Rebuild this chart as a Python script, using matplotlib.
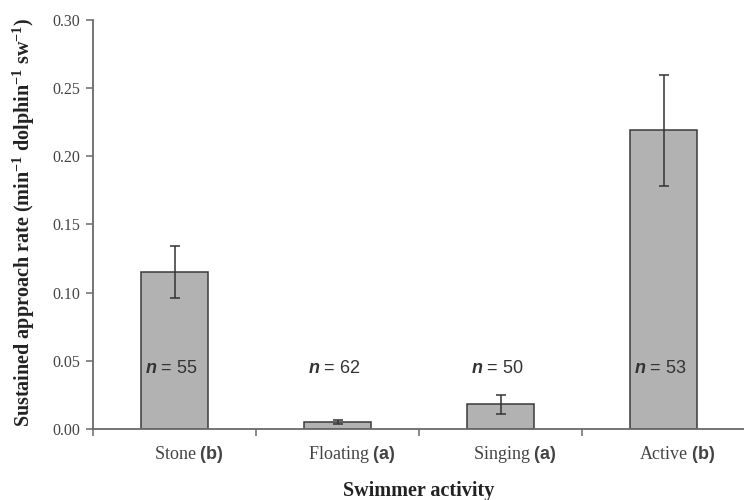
import numpy as np
import matplotlib
matplotlib.use("Agg")
import matplotlib.pyplot as plt
import matplotlib.transforms as mtransforms

# Fonts: serif for axes text, sans bold for group letters
plt.rcParams['font.family'] = ['Liberation Serif', 'DejaVu Serif']
plt.rcParams['mathtext.fontset'] = 'custom'
plt.rcParams['mathtext.bf'] = 'Liberation Serif:bold'
plt.rcParams['mathtext.sf'] = 'Liberation Sans:bold'
plt.rcParams['mathtext.it'] = 'Liberation Sans:italic:bold'
plt.rcParams['mathtext.rm'] = 'Liberation Sans'

# Data
categories = ['Stone', 'Floating', 'Singing', 'Active']
letters = ['b', 'a', 'a', 'b']
rates = [0.115, 0.005, 0.018, 0.219]
errors = [0.019, 0.0015, 0.007, 0.041]
n_counts = [55, 62, 50, 53]
y_ticks = [0.00, 0.05, 0.10, 0.15, 0.20, 0.25, 0.30]

TEXT = '#444444'
AXIS = '#6a6a6a'

fig = plt.figure(figsize=(7.44, 5.0), dpi=100)
ax = fig.add_axes([93 / 744, 71 / 500, 652 / 744, 409 / 500])

x = np.arange(len(categories))
ax.bar(x, rates, width=0.41, color='#b2b2b2', edgecolor='#3a3a3a', linewidth=1.1, zorder=2)
ax.errorbar(x, rates, yerr=errors, fmt='none', ecolor='#333333', elinewidth=1.1,
            capsize=3.6, capthick=1.1, zorder=3)

# n labels inside / above bars
for xi, n in zip(x, n_counts):
    ax.text(xi - 0.02, 0.0445, r'$\mathit{n}$ = %d' % n, ha='center', va='center',
            fontsize=13, color='#333333', family=['Liberation Sans', 'DejaVu Sans'], zorder=4)

ax.set_xlim(-0.5, len(categories) - 0.5)
ax.set_ylim(0, 0.30)
ax.set_yticks(y_ticks)
ax.set_yticklabels(['%.2f' % v for v in y_ticks])

# category separators as ticks, labels drawn as text
ax.set_xticks(np.arange(len(categories) + 1) - 0.5)
ax.set_xticklabels([])
trans = mtransforms.blended_transform_factory(ax.transData, ax.transAxes)
for xi, cat, let in zip(x, categories, letters):
    ax.text(xi + 0.085, -0.037, cat + r' $\mathsf{(%s)}$' % let, transform=trans,
            ha='center', va='top', fontsize=13, color=TEXT)

ax.tick_params(axis='y', direction='out', length=5, width=1.1, color=AXIS,
               labelsize=11.5, labelcolor=TEXT, pad=4)
ax.tick_params(axis='x', direction='out', length=5, width=1.1, color=AXIS)

for side in ['top', 'right']:
    ax.spines[side].set_visible(False)
for side in ['left', 'bottom']:
    ax.spines[side].set_color(AXIS)
    ax.spines[side].set_linewidth(1.3)

fig.text(24 / 744, 1 - 222 / 500,
         r'Sustained approach rate (min$^{\mathbf{-1}}$ dolphin$^{\mathbf{-1}}$ sw$^{\mathbf{-1}}$)',
         rotation=90, ha='center', va='center', fontsize=14.5, fontweight='bold', color='#222222')
fig.text(419 / 744, 4 / 500, 'Swimmer activity', ha='center', va='baseline',
         fontsize=14.5, fontweight='bold', color='#222222')

fig.savefig('out.png', dpi=100)
